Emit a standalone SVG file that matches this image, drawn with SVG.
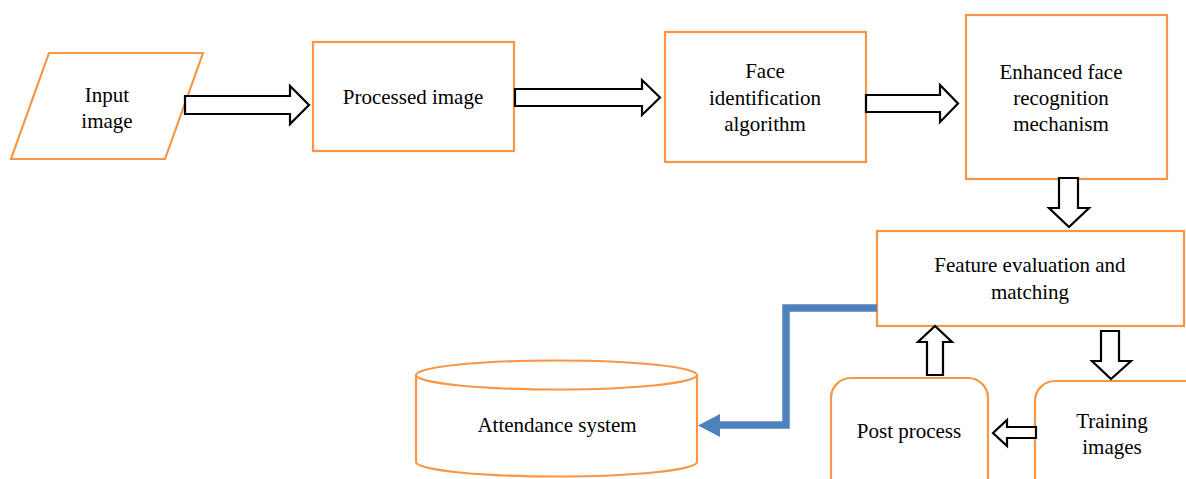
<svg xmlns="http://www.w3.org/2000/svg" width="1186" height="479" viewBox="0 0 1186 479">
<style>
.node{fill:#fff;stroke:#f79646;stroke-width:2.2}
.blk{fill:#fff;stroke:#000;stroke-width:2.2;stroke-linejoin:miter}
text{font-family:"Liberation Serif","Times New Roman",serif;font-size:21px;fill:#000;text-anchor:middle}
</style>
<rect width="1186" height="479" fill="#fff"/>
<g id="input">
<polygon class="node" points="49,53 203,53 165,159 11,159"/>
<text x="107" y="102">Input</text>
<text x="107" y="128">image</text>
</g>
<g id="processed">
<rect class="node" x="313" y="42" width="201" height="109"/>
<text x="413" y="104">Processed image</text>
</g>
<g id="faceid">
<rect class="node" x="665" y="32" width="201" height="130"/>
<text x="765" y="78">Face</text>
<text x="765" y="105">identification</text>
<text x="765" y="131">algorithm</text>
</g>
<g id="enhanced">
<rect class="node" x="966" y="15" width="201" height="164"/>
<text x="1061" y="79">Enhanced face</text>
<text x="1061" y="105">recognition</text>
<text x="1061" y="131">mechanism</text>
</g>
<g id="feature">
<rect class="node" x="877" y="231" width="307" height="95"/>
<text x="1030" y="272">Feature evaluation and</text>
<text x="1030" y="299">matching</text>
</g>
<g id="post">
<rect class="node" x="831" y="378" width="157" height="130" rx="20"/>
<text x="909" y="438">Post process</text>
</g>
<g id="training">
<rect class="node" x="1035" y="381" width="170" height="130" rx="20"/>
<text x="1112" y="428">Training</text>
<text x="1112" y="454">images</text>
</g>
<g id="attendance">
<path class="node" d="M416,375 L416,462 A140.5,14.5 0 0 0 697,462 L697,375"/>
<ellipse class="node" cx="556.5" cy="375" rx="140.5" ry="14.5"/>
<text x="557" y="432">Attendance system</text>
</g>
<g id="connectors">
<polygon class="blk" points="185,96 290,96 290,86 309,105 290,124 290,114 185,114"/>
<polygon class="blk" points="515,89 642,89 642,80 660,97.5 642,115 642,106 515,106"/>
<polygon class="blk" points="866,95 940,95 940,85 958,103.5 940,122 940,112 866,112"/>
<polygon class="blk" points="1059,178 1078,178 1078,208 1089,208 1069,227 1049,208 1059,208"/>
<polygon class="blk" points="927,375 943,375 943,342 952,342 935,326 918,342 927,342"/>
<polygon class="blk" points="1101,331 1119,331 1119,361 1131,361 1111,379 1092,361 1101,361"/>
<polygon class="blk" points="1036,427 1007,427 1007,420 993,433 1007,446 1007,438 1036,438"/>
<polyline points="877,308 786,308 786,425 718,425" fill="none" stroke="#4f81bd" stroke-width="7.5"/>
<polygon points="698,425.5 720,414 720,437" fill="#4f81bd"/>
</g>
</svg>
